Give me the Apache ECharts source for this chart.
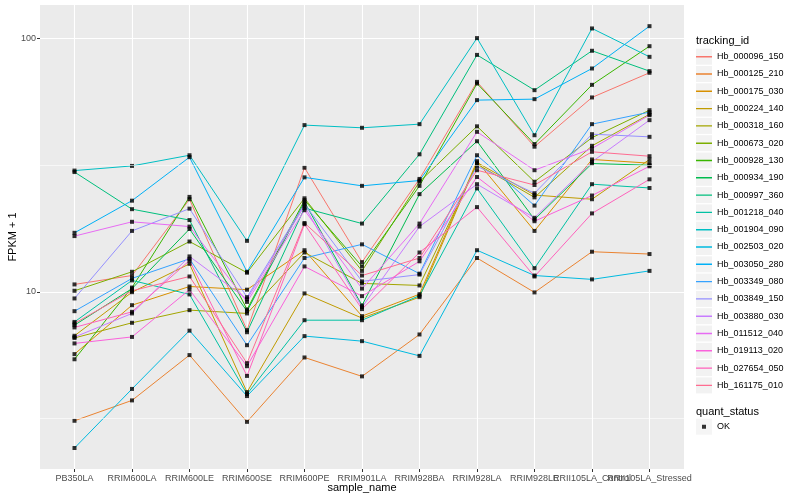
<!DOCTYPE html>
<html><head><meta charset="utf-8">
<script src="https://cdn.jsdelivr.net/npm/echarts@6/dist/echarts.min.js"></script>
<style>html,body{margin:0;padding:0;background:#fff}#c{width:800px;height:500px}</style>
</head><body><div id="c"></div>
<script>
// ---- data ----
const samples = ['PB350LA','RRIM600LA','RRIM600LE','RRIM600SE','RRIM600PE','RRIM901LA','RRIM928BA','RRIM928LA','RRIM928LE','RRII105LA_Control','RRII105LA_Stressed'];
const trackingIds = ['Hb_000096_150','Hb_000125_210','Hb_000175_030','Hb_000224_140','Hb_000318_160','Hb_000673_020','Hb_000928_130','Hb_000934_190','Hb_000997_360','Hb_001218_040','Hb_001904_090','Hb_002503_020','Hb_003050_280','Hb_003349_080','Hb_003849_150','Hb_003880_030','Hb_011512_040','Hb_019113_020','Hb_027654_050','Hb_161175_010'];
const yTickLabels = [10, 100];
const quantStatus = 'OK';

const hb_000096_150 = [10.7, 11.6, 23.2, 7.06, 30.9, 13.1, 27.9, 67.4, 37.4, 58.5, 73.2];
const hb_000125_210 = [3.10, 3.73, 5.63, 3.07, 5.51, 4.64, 6.79, 13.6, 9.95, 14.4, 14.1];
const hb_000175_030 = [5.68, 8.86, 10.5, 10.2, 14.6, 8.02, 9.79, 32.8, 17.4, 33.3, 32.2];
const hb_000224_140 = [6.71, 9.97, 12.9, 4.02, 9.86, 7.88, 9.53, 32.4, 24.1, 23.2, 33.3];
const hb_000318_160 = [6.58, 7.55, 8.47, 8.22, 14.3, 10.8, 10.6, 31.9, 23.6, 37.7, 50.2];
const hb_000673_020 = [10.1, 12.0, 15.8, 11.9, 23.4, 12.1, 27.2, 45.0, 27.2, 40.6, 52.1];
const hb_000928_130 = [5.42, 10.4, 23.7, 8.52, 23.0, 12.6, 26.2, 66.4, 38.3, 65.6, 93.2];
const hb_000934_190 = [7.39, 10.3, 17.7, 8.39, 22.6, 8.84, 24.3, 39.3, 19.3, 32.1, 31.6];
const hb_000997_360 = [29.7, 21.2, 19.2, 6.93, 21.4, 18.6, 34.9, 86.1, 62.5, 89.4, 74.3];
const hb_001218_040 = [7.61, 11.1, 9.77, 3.95, 7.73, 7.73, 9.66, 25.6, 12.4, 26.6, 25.7];
const hb_001904_090 = [30.1, 31.4, 34.6, 15.9, 45.5, 44.4, 45.9, 100.3, 41.5, 109.5, 84.6];
const hb_002503_020 = [2.42, 4.14, 7.03, 3.88, 6.69, 6.39, 5.59, 14.6, 11.6, 11.2, 12.1];
const hb_003050_280 = [17.1, 22.9, 34.0, 12.0, 28.3, 26.2, 27.5, 57.1, 57.6, 76.1, 111.8];
const hb_003349_080 = [8.39, 11.3, 13.5, 6.16, 13.6, 15.4, 11.8, 34.6, 21.9, 45.9, 51.2];
const hb_003849_150 = [9.42, 17.4, 21.3, 9.53, 22.2, 11.0, 11.7, 31.3, 24.5, 41.9, 40.9];
const hb_003880_030 = [6.63, 8.22, 13.8, 9.36, 21.8, 8.70, 18.1, 26.6, 19.6, 32.6, 47.6];
const hb_011512_040 = [16.6, 18.9, 18.1, 9.13, 21.0, 10.3, 18.6, 42.8, 30.2, 36.8, 49.8];
const hb_019113_020 = [6.26, 6.64, 10.2, 5.09, 12.6, 9.62, 13.2, 28.4, 19.0, 24.0, 31.3];
const hb_027654_050 = [7.24, 8.34, 13.3, 4.66, 18.5, 8.55, 14.3, 21.6, 11.5, 20.4, 27.8];
const hb_161175_010 = [7.51, 10.1, 11.5, 5.23, 18.7, 11.6, 13.6, 30.2, 26.4, 35.7, 34.3];

const seriesValues = [hb_000096_150, hb_000125_210, hb_000175_030, hb_000224_140, hb_000318_160,
  hb_000673_020, hb_000928_130, hb_000934_190, hb_000997_360, hb_001218_040, hb_001904_090,
  hb_002503_020, hb_003050_280, hb_003349_080, hb_003849_150, hb_003880_030, hb_011512_040,
  hb_019113_020, hb_027654_050, hb_161175_010];

// ---- style ----
const palette = ['#F8766D','#EA8331','#D89000','#C09B00','#A3A500','#7CAE00','#39B600','#00BB4E','#00BF7D','#00C1A3','#00BFC4','#00BAE0','#00B0F6','#35A2FF','#9590FF','#C77CFF','#E76BF3','#FA62DB','#FF62BC','#FF6C91'];
const FONT = 'Liberation Sans, Arial, sans-serif';
const idx = samples.map((s, i) => i);
const evenIdx = idx.filter(i => i % 2 === 0);
const oddIdx = idx.filter(i => i % 2 === 1);

const chart = echarts.init(document.getElementById('c'), null, {renderer: 'canvas'});

const lineSeries = trackingIds.map((id, i) => ({
  name: id, type: 'line', z: 3,
  data: seriesValues[i].map((v, j) => [j, v]),
  showSymbol: false, symbol: 'none',
  lineStyle: {width: 1, color: palette[i]},
  itemStyle: {color: palette[i]},
  emphasis: {disabled: true},
  animation: false
}));

const pointData = [];
seriesValues.forEach(vals => vals.forEach((v, j) => pointData.push([j, v])));

const gridSeries = {
  name: '_grid', type: 'line', z: 1, data: [], silent: true, animation: false,
  markLine: {
    silent: true, symbol: ['none', 'none'], label: {show: false}, animation: false,
    lineStyle: {color: '#FFFFFF', width: 0.6, type: 'solid'},
    emphasis: {disabled: true},
    data: [{yAxis: 3.1623}, {yAxis: 31.623}]
  }
};

const lineIcon = 'path://M0,0h0.01v0.01h-0.01z M0,7.3h16v1.4h-16z M16,16h0.01v0.01h-0.01z';
const dotIcon = 'path://M0,0h0.01v0.01h-0.01z M6,6h4v4h-4z M16,16h0.01v0.01h-0.01z';

const xLabelBase = {color: '#4D4D4D', fontSize: 9, margin: 5, hideOverlap: false,
                    showMinLabel: true, showMaxLabel: true, fontFamily: FONT,
                    formatter: v => samples[Math.round(v)]};
const legendBase = {orient: 'vertical', left: 696, padding: 0, itemGap: 1.3, itemWidth: 16, itemHeight: 16, selectedMode: false};

chart.setOption({
  animation: false,
  backgroundColor: '#FFFFFF',
  textStyle: {fontFamily: FONT},
  grid: {left: 40, right: 116, top: 5, bottom: 31, show: true, backgroundColor: '#EBEBEB', borderWidth: 0,
         containLabel: false, outerBoundsMode: 'none'},
  title: [
    {text: 'tracking_id', left: 696, top: 35, padding: 0, textStyle: {fontSize: 11, fontWeight: 'normal', color: '#000', fontFamily: FONT}},
    {text: 'quant_status', left: 696, top: 406, padding: 0, textStyle: {fontSize: 11, fontWeight: 'normal', color: '#000', fontFamily: FONT}}
  ],
  legend: [
    Object.assign({}, legendBase, {top: 48.7, icon: 'rect', data: trackingIds,
     itemStyle: {color: '#F2F2F2', borderWidth: 0},
     textStyle: {color: 'rgba(0,0,0,0)', fontSize: 9}}),
    Object.assign({}, legendBase, {top: 48.7, icon: lineIcon, data: trackingIds,
     itemStyle: {borderWidth: 0},
     textStyle: {color: '#000', fontSize: 9, fontFamily: FONT}}),
    Object.assign({}, legendBase, {top: 418.7, icon: 'rect', data: [quantStatus],
     itemStyle: {color: '#F2F2F2', borderWidth: 0},
     textStyle: {color: 'rgba(0,0,0,0)', fontSize: 9}}),
    Object.assign({}, legendBase, {top: 418.7, icon: dotIcon, data: [quantStatus],
     itemStyle: {color: '#000', borderWidth: 0},
     textStyle: {color: '#000', fontSize: 9, fontFamily: FONT}})
  ],
  xAxis: [{
    type: 'value', min: -0.6, max: 10.6, position: 'bottom',
    name: 'sample_name', nameLocation: 'middle', nameGap: 13, nameMoveOverlap: false,
    nameTextStyle: {fontSize: 11, color: '#000', fontFamily: FONT},
    axisLine: {show: false, onZero: false},
    axisTick: {show: true, length: 3, customValues: idx, lineStyle: {color: '#333333', width: 1}},
    axisLabel: Object.assign({customValues: evenIdx}, xLabelBase),
    splitLine: {show: true, lineStyle: {color: '#FFFFFF', width: 1.1}}
  }, {
    type: 'value', min: -0.6, max: 10.6, position: 'bottom', offset: 0,
    axisLine: {show: false, onZero: false},
    axisTick: {show: false},
    axisLabel: Object.assign({customValues: oddIdx}, xLabelBase),
    splitLine: {show: false}
  }],
  yAxis: {
    type: 'log', logBase: 10, min: 2, max: 135.5,
    name: 'FPKM + 1', nameLocation: 'middle', nameGap: 22, nameMoveOverlap: false,
    nameTextStyle: {fontSize: 11, color: '#000', fontFamily: FONT},
    axisLine: {show: false, onZero: false},
    axisTick: {show: true, length: 3, customValues: yTickLabels, lineStyle: {color: '#333333', width: 1}},
    axisLabel: {customValues: yTickLabels, color: '#4D4D4D', fontSize: 9, margin: 4, fontFamily: FONT},
    splitLine: {show: true, lineStyle: {color: '#FFFFFF', width: 1.1}}
  },
  series: [gridSeries, ...lineSeries, {
    name: quantStatus, type: 'scatter', z: 4, data: pointData,
    symbol: 'rect', symbolSize: 4, itemStyle: {color: '#000000'},
    emphasis: {disabled: true}, animation: false
  }]
});
</script></body></html>
